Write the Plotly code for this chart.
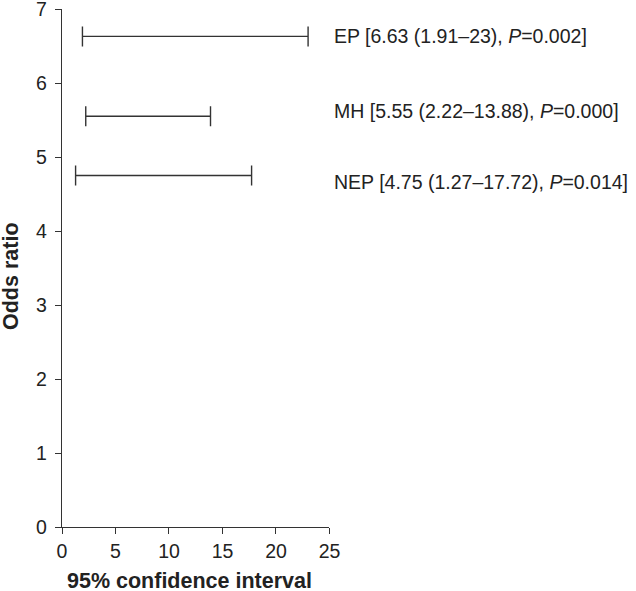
import plotly.graph_objects as go

# Data
groups = ["EP", "MH", "NEP"]
odds_ratio = [6.63, 5.55, 4.75]
ci_low = [1.91, 2.22, 1.27]
ci_high = [23, 13.88, 17.72]
p_values = ["0.002", "0.000", "0.014"]
label_shift = [0, 5, -6]

x_ticks = [0, 5, 10, 15, 20, 25]
y_ticks = [0, 1, 2, 3, 4, 5, 6, 7]
x_title = "95% confidence interval"
y_title = "Odds ratio"

FONT = "Liberation Sans, Arial, sans-serif"
INK = "#333333"
TXT = "#222222"

fig = go.Figure()
fig.add_trace(go.Scatter(
    x=ci_low,
    y=odds_ratio,
    mode="markers",
    marker=dict(size=0.1, color="rgba(0,0,0,0)"),
    error_x=dict(
        type="data",
        symmetric=False,
        array=[h - l for h, l in zip(ci_high, ci_low)],
        arrayminus=[0 for _ in ci_low],
        color=INK,
        thickness=1.4,
        width=10,
    ),
    showlegend=False,
    hoverinfo="skip",
))

for g, orv, lo, hi, p, sh in zip(groups, odds_ratio, ci_low, ci_high, p_values, label_shift):
    fig.add_annotation(
        x=1, xref="x domain", xanchor="left",
        y=orv, yref="y", yanchor="middle", yshift=sh, xshift=3,
        text=f"{g} [{orv:g} ({lo:g}–{hi:g}), <i>P</i>={p}]",
        showarrow=False,
        font=dict(family=FONT, size=19.5, color=TXT),
    )

# Axis titles as annotations for exact placement
fig.add_annotation(
    x=0.5, xref="x domain", xanchor="center",
    y=0, yref="y domain", yanchor="middle", yshift=-54, xshift=-6,
    text=f"<b>{x_title}</b>", showarrow=False,
    font=dict(family=FONT, size=21.5, color=TXT),
)
fig.add_annotation(
    x=0, xref="x domain", xanchor="center", xshift=-51,
    y=0.5, yref="y domain", yanchor="middle", yshift=-8,
    text=f"<b>{y_title}</b>", textangle=-90, showarrow=False,
    font=dict(family=FONT, size=21.5, color=TXT),
)

fig.update_layout(
    width=636, height=591,
    margin=dict(l=62, r=0, t=9, b=64),
    paper_bgcolor="white", plot_bgcolor="white",
    font=dict(family=FONT, size=19.5, color=TXT),
    xaxis=dict(
        domain=[0, 0.466],
        range=[0, 25], tickvals=x_ticks,
        showline=True, linecolor=INK, linewidth=1.4,
        ticks="outside", ticklen=6, tickcolor=INK, tickwidth=1.2,
        showgrid=False, zeroline=False, automargin=False,
        ticklabeloverflow="allow",
        tickfont=dict(size=19.5),
    ),
    yaxis=dict(
        range=[0, 7], tickvals=y_ticks,
        showline=True, linecolor=INK, linewidth=1.4,
        ticks="outside", ticklen=6, tickcolor=INK, tickwidth=1.2,
        showgrid=False, zeroline=False, automargin=False,
        ticklabeloverflow="allow",
        ticklabelstandoff=4,
        tickfont=dict(size=19.5),
    ),
)

fig.write_html("out.html", config={"displayModeBar": False},
               post_script="document.body.style.margin='0px';")
